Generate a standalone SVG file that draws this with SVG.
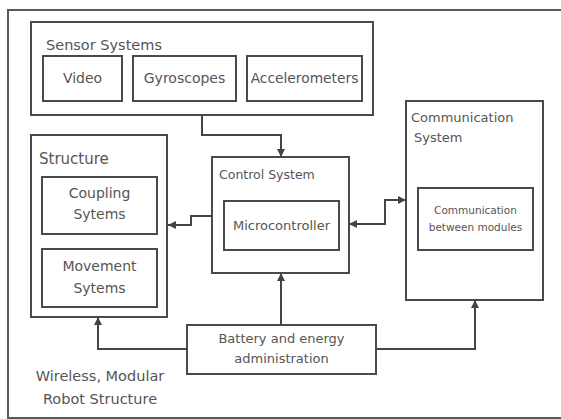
<svg xmlns="http://www.w3.org/2000/svg" width="561" height="419" viewBox="0 0 561 419">
<style>
.box{fill:#fff;stroke:#4a4a4a;stroke-width:2}
.frame{fill:#fff;stroke:#5a5a5a;stroke-width:2}
text{font-family:"DejaVu Sans",sans-serif;fill:#555}
.c{text-anchor:middle}
.edge{fill:none;stroke:#444;stroke-width:2}
</style>
<defs>
<marker id="arr" viewBox="0 0 10 10" refX="10" refY="5" markerWidth="4" markerHeight="4" orient="auto-start-reverse" markerUnits="strokeWidth">
<path d="M0,0 L10,5 L0,10 z" fill="#444"/>
</marker>
</defs>
<rect class="frame" x="8" y="10" width="565" height="408"/>
<g id="sensor-systems">
<rect class="box" x="31" y="22" width="342" height="93"/>
<text x="46" y="50" font-size="14.5">Sensor Systems</text>
</g>
<g id="video">
<rect class="box" x="43" y="56" width="79" height="45"/>
<text class="c" x="82.5" y="83" font-size="14">Video</text>
</g>
<g id="gyroscopes">
<rect class="box" x="133" y="56" width="103" height="45"/>
<text class="c" x="184.5" y="83" font-size="14">Gyroscopes</text>
</g>
<g id="accelerometers">
<rect class="box" x="247" y="56" width="115" height="45"/>
<text class="c" x="304.5" y="83" font-size="13.8">Accelerometers</text>
</g>
<g id="structure">
<rect class="box" x="31" y="135" width="136" height="182"/>
<text x="39" y="164" font-size="15">Structure</text>
</g>
<g id="coupling-systems">
<rect class="box" x="42" y="177" width="115" height="57"/>
<text class="c" x="99.5" y="198" font-size="14">Coupling</text>
<text class="c" x="99.5" y="219" font-size="14">Sytems</text>
</g>
<g id="movement-systems">
<rect class="box" x="42" y="249" width="115" height="58"/>
<text class="c" x="99.5" y="271" font-size="14">Movement</text>
<text class="c" x="99.5" y="293" font-size="14">Sytems</text>
</g>
<g id="control-system">
<rect class="box" x="212" y="157" width="137" height="116"/>
<text x="219" y="179" font-size="12.5">Control System</text>
</g>
<g id="microcontroller">
<rect class="box" x="224" y="201" width="115" height="49"/>
<text class="c" x="281.5" y="230" font-size="13">Microcontroller</text>
</g>
<g id="communication-system">
<rect class="box" x="406" y="101" width="137" height="199"/>
<text x="411" y="122" font-size="13">Communication</text>
<text x="414" y="142" font-size="13">System</text>
</g>
<g id="communication-modules">
<rect class="box" x="418" y="188" width="115" height="62"/>
<text class="c" x="475.5" y="214" font-size="10.5">Communication</text>
<text class="c" x="475.5" y="231" font-size="10.5">between modules</text>
</g>
<g id="battery">
<rect class="box" x="187" y="325" width="189" height="49"/>
<text class="c" x="281.5" y="343" font-size="13">Battery and energy</text>
<text class="c" x="281.5" y="363" font-size="13">administration</text>
</g>
<g id="caption">
<text class="c" x="100" y="381" font-size="14.5">Wireless, Modular</text>
<text class="c" x="100" y="404" font-size="14.5">Robot Structure</text>
</g>
<g id="connectors">
<path class="edge" d="M202,115 V135 H281 V157" marker-end="url(#arr)"/>
<path class="edge" d="M212,216 H191 V225 H168" marker-end="url(#arr)"/>
<path class="edge" d="M349,224 H385 V200 H406" marker-start="url(#arr)" marker-end="url(#arr)"/>
<path class="edge" d="M281,325 V273" marker-end="url(#arr)"/>
<path class="edge" d="M187,349 H98 V317" marker-end="url(#arr)"/>
<path class="edge" d="M376,349 H475 V300" marker-end="url(#arr)"/>
</g>
</svg>
